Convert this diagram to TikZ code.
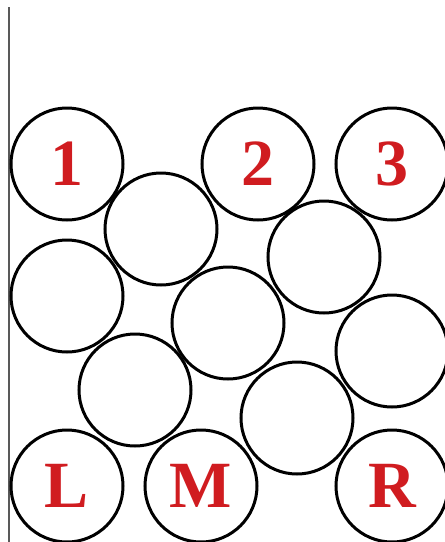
\documentclass[tikz,border=0pt]{standalone}
\usepackage{fontspec}
\setmainfont{Liberation Serif}
\definecolor{labred}{RGB}{208,28,32}
\begin{document}
\begin{tikzpicture}[x=1pt,y=-1pt,
  ball/.style={circle,draw=black,line width=3pt,minimum size=112pt,inner sep=0pt,
    font=\fontsize{66}{66}\selectfont\bfseries,text=labred}]
\useasboundingbox (0,0) rectangle (445,542);
\clip (0,0) rectangle (445,542);
\draw[line width=2.4pt,black!65] (9,7) -- (9,542);
\node[ball] (c1) at (67,164) {1};
\node[ball] (c2) at (258,164) {2};
\node[ball] (c3) at (392,164) {3};
\node[ball] (a) at (161,229) {};
\node[ball] (b) at (324,257) {};
\node[ball] (c) at (67,296) {};
\node[ball] (d) at (228,323) {};
\node[ball] (e) at (392,351) {};
\node[ball] (f) at (135,390) {};
\node[ball] (g) at (297,418) {};
\node[ball] (cL) at (67,486) {L};
\node[ball] (cM) at (201,486) {M};
\node[ball] (cR) at (392,486) {R};
\end{tikzpicture}
\end{document}
